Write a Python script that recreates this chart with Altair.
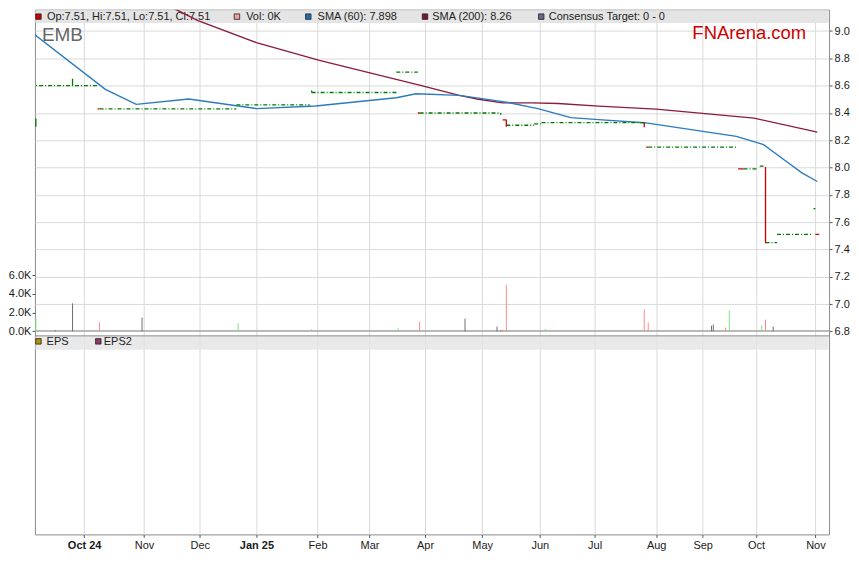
import altair as alt
import pandas as pd

# ------------------------------------------------------------------ data
SMA60_DATES = ["2024-09-03", "2024-10-12", "2024-10-28", "2024-11-25", "2025-01-01",
               "2025-01-31", "2025-03-16", "2025-03-27", "2025-04-19", "2025-05-14",
               "2025-05-31", "2025-06-18", "2025-07-03", "2025-07-26", "2025-09-20",
               "2025-10-05", "2025-10-16", "2025-10-25", "2025-11-02"]
SMA60_VALUES = [9.00, 8.573, 8.463, 8.502, 8.432, 8.451, 8.512, 8.541, 8.529, 8.480,
                8.432, 8.366, 8.351, 8.329, 8.229, 8.168, 8.054, 7.961, 7.898]

SMA200_DATES = ["2024-11-05", "2024-11-12", "2024-11-30", "2025-01-01", "2025-02-02",
                "2025-03-30", "2025-04-19", "2025-04-29", "2025-05-12", "2025-05-28",
                "2025-06-11", "2025-07-03", "2025-08-01", "2025-09-30", "2025-11-02"]
SMA200_VALUES = [9.28, 9.20, 9.077, 8.916, 8.785, 8.60, 8.529, 8.501, 8.474, 8.474,
                 8.470, 8.450, 8.428, 8.362, 8.26]

CLOSE_START = ["2024-09-03", "2024-10-09", "2024-12-21", "2025-01-29", "2025-03-16",
               "2025-03-29", "2025-05-14", "2025-05-29", "2025-06-02", "2025-07-28",
               "2025-09-24", "2025-10-03", "2025-10-06", "2025-10-12", "2025-10-31"]
CLOSE_END = ["2024-10-08", "2024-12-21", "2025-01-28", "2025-03-16", "2025-03-28",
             "2025-05-11", "2025-05-29", "2025-06-02", "2025-07-26", "2025-09-20",
             "2025-10-02", "2025-10-05", "2025-10-12", "2025-10-30", "2025-11-01"]
CLOSE_PRICE = [8.60, 8.43, 8.46, 8.55, 8.70, 8.40, 8.31, 8.32, 8.33, 8.15,
               7.99, 8.01, 7.45, 7.51, 7.70]

DOWN_START = ["2024-10-08", "2025-03-28", "2025-05-12", "2025-07-27", "2025-09-21", "2025-11-01"]
DOWN_END = ["2024-10-09", "2025-03-29", "2025-05-14", "2025-07-28", "2025-09-24", "2025-11-03"]
DOWN_PRICE = [8.43, 8.40, 8.35, 8.15, 7.99, 7.51]

VERT_DATES = ["2024-09-06", "2024-09-25", "2025-01-29", "2025-05-11", "2025-05-14",
              "2025-07-26", "2025-10-06"]
VERT_LOW = [8.30, 8.60, 8.55, 8.387, 8.30, 8.296, 7.445]
VERT_HIGH = [8.36, 8.65, 8.565, 8.40, 8.35, 8.33, 8.005]
VERT_DIR = ["up", "up", "up", "up", "down", "down", "down"]

VOL_DATES = ["2024-09-06", "2024-09-16", "2024-09-25", "2024-10-09", "2024-10-31",
             "2024-12-22", "2025-01-29", "2025-03-17", "2025-03-29", "2025-04-22",
             "2025-05-09", "2025-05-11", "2025-05-12", "2025-05-14", "2025-06-04",
             "2025-07-26", "2025-07-28", "2025-09-06", "2025-09-07", "2025-09-14",
             "2025-09-16", "2025-09-22", "2025-10-04", "2025-10-06", "2025-10-10",
             "2025-11-01"]
VOL_K = [1.47, 0.13, 3.0, 0.98, 1.47, 0.87, 0.23, 0.34, 1.05, 1.37,
         0.52, 0.10, 0.20, 4.99, 0.27, 2.33, 0.94, 0.62, 0.73, 0.41,
         2.22, 0.05, 0.62, 1.26, 0.52, 0.13]
VOL_DIR = ["up", "flat", "flat", "down", "flat", "up", "up", "up", "down", "flat",
           "flat", "flat", "down", "down", "up", "down", "down", "flat", "flat", "down",
           "up", "down", "up", "down", "flat", "up"]

MONTH_TICKS = ["2024-10-01", "2024-11-01", "2024-12-01", "2025-01-01", "2025-02-01",
               "2025-03-01", "2025-04-01", "2025-05-01", "2025-06-01", "2025-07-01",
               "2025-08-01", "2025-09-01", "2025-10-01", "2025-11-01"]
PRICE_TICKS = [6.8, 7.0, 7.2, 7.4, 7.6, 7.8, 8.0, 8.2, 8.4, 8.6, 8.8, 9.0]
VOL_TICKS = [0, 2000, 4000, 6000]

LEGEND_TOP = ["Op:7.51, Hi:7.51, Lo:7.51, Cl:7.51", "Vol: 0K", "SMA (60): 7.898",
              "SMA (200): 8.26", "Consensus Target: 0 - 0"]
LEGEND_TOP_COLORS = ["#cc0000", "#f4a0a0", "#1f6fb0", "#7a1530", "#666a8a"]
LEGEND_BOTTOM = ["EPS", "EPS2"]
LEGEND_BOTTOM_COLORS = ["#b39200", "#8b3a6b"]


def ms(s):
    return int(pd.Timestamp(s, tz="UTC").value // 10**6)


# ------------------------------------------------------------------ layout
FONT = "Liberation Sans"
W, H = 796, 526
PAD = {"left": 27, "top": 1, "right": 22, "bottom": 18}

# price scale calibration (plot px)
P_LO_Y, P_HI_Y = 322.5, 21.5
PPU = (P_LO_Y - P_HI_Y) / 2.2
P_DOMAIN = [6.8 - (H - P_LO_Y) / PPU, 9.0 + P_HI_Y / PPU]
VPPK = 9.383
V_DOMAIN = [-(H - P_LO_Y) / VPPK * 1000, P_LO_Y / VPPK * 1000]

# the source's time axis is not calendar-uniform: piecewise-linear time scale on month ticks
X_ANCHORS = ["2024-09-05T12:30:00"] + MONTH_TICKS + ["2025-11-08T03:00:00"]
X_ANCHOR_PX = [0, 49.3, 109.3, 165.3, 222, 283.3, 335.3, 391, 448.3, 506, 561,
               622.7, 669.3, 722.7, 782.3, 796]
XS = alt.Scale(type="linear", domain=[ms(d) for d in X_ANCHORS], range=X_ANCHOR_PX,
               nice=False, zero=False)
PS = alt.Scale(domain=P_DOMAIN, nice=False, zero=False)
VS = alt.Scale(domain=V_DOMAIN, nice=False, zero=False)

IS_YEAR = "(utcmonth(datum.value) == 0 || (utcmonth(datum.value) == 9 && utcyear(datum.value) == 2024))"
XAXIS = alt.Axis(values=[ms(d) for d in MONTH_TICKS],
                 labelExpr=IS_YEAR + " ? utcFormat(datum.value, '%b %y') : utcFormat(datum.value, '%b')",
                 labelFontWeight={"condition": {"test": IS_YEAR, "value": "bold"}, "value": "normal"},
                 title=None, grid=True, gridColor="#d9d9d9", domain=False, tickSize=3,
                 tickColor="#555555", labelPadding=2, labelOverlap=False, labelFlush=False)
PAXIS = alt.Axis(orient="right", values=PRICE_TICKS, format=".1f", title=None, grid=True,
                 gridColor="#d9d9d9", domain=False, tickSize=3, tickColor="#555555",
                 labelPadding=2, labelOverlap=False, labelFlush=False)
VAXIS = alt.Axis(orient="left", values=VOL_TICKS, labelExpr="format(datum.value/1000, '.1f') + 'K'",
                 title=None, grid=False, domain=False, tickSize=3, tickColor="#555555",
                 labelPadding=1, labelOverlap=False, labelFlush=False)

GREEN = "#007a00"
RED = "#cc0000"


def tcol(dates):
    return [ms(d) for d in dates]


df60 = pd.DataFrame({"t": tcol(SMA60_DATES), "v": SMA60_VALUES})
df200 = pd.DataFrame({"t": tcol(SMA200_DATES), "v": SMA200_VALUES})
dfc = pd.DataFrame({"t": tcol(CLOSE_START), "end": tcol(CLOSE_END), "p": CLOSE_PRICE})
dfd = pd.DataFrame({"t": tcol(DOWN_START), "end": tcol(DOWN_END), "p": DOWN_PRICE})
dfv = pd.DataFrame({"t": tcol(VERT_DATES), "lo": VERT_LOW, "hi": VERT_HIGH, "dir": VERT_DIR})
dfvol = pd.DataFrame({"t": tcol(VOL_DATES), "vol": [k * 1000 for k in VOL_K], "dir": VOL_DIR})
ONE = pd.DataFrame({"k": [0]})

X = lambda: alt.X("t:Q", scale=XS, axis=XAXIS)
Y = lambda f: alt.Y(f"{f}:Q", scale=PS, axis=PAXIS)

sma60 = alt.Chart(df60).mark_line(color="#2a7bbd", strokeWidth=1.4, clip=True).encode(x=X(), y=Y("v"))
sma200 = alt.Chart(df200).mark_line(color="#8a1c3c", strokeWidth=1.4, clip=True).encode(x=X(), y=Y("v"))
close = alt.Chart(dfc).mark_rule(color=GREEN, strokeWidth=1.3, strokeDash=[4, 2, 1, 2], clip=True).encode(
    x=X(), x2="end:Q", y=Y("p"))
down = alt.Chart(dfd).mark_rule(color=RED, strokeWidth=1.3, clip=True).encode(x=X(), x2="end:Q", y=Y("p"))
vup = alt.Chart(dfv).transform_filter("datum.dir == 'up'").mark_rule(color=GREEN, strokeWidth=1.3, clip=True).encode(
    x=X(), y=Y("lo"), y2="hi:Q")
vdn = alt.Chart(dfv).transform_filter("datum.dir == 'down'").mark_rule(color=RED, strokeWidth=1.3, clip=True).encode(
    x=X(), y=Y("lo"), y2="hi:Q")
price = alt.layer(sma200, sma60, close, down, vup, vdn)

volume = alt.Chart(dfvol).mark_rule(strokeWidth=1, clip=True).encode(
    x=X(),
    y=alt.Y("vol:Q", scale=VS, axis=VAXIS),
    y2=alt.datum(0),
    color=alt.Color("dir:N", scale=alt.Scale(domain=["up", "down", "flat"],
                                            range=["#7be37b", "#ff8a8a", "#6f6f6f"]), legend=None),
)


def rect(x1, x2, y1, y2, fill, opacity=1.0):
    return alt.Chart(ONE).mark_rect(color=fill, opacity=opacity).encode(
        x=alt.value(x1), x2=alt.value(x2), y=alt.value(y1), y2=alt.value(y2))


def hline(y, color):
    return alt.Chart(ONE).mark_rule(color=color, strokeWidth=1).encode(
        x=alt.value(0), x2=alt.value(W), y=alt.value(y))


def text(s, x, y, size=11, color="#222222", align="left", baseline="middle"):
    return alt.Chart(ONE).mark_text(text=s, font=FONT, fontSize=size, color=color,
                                    align=align, baseline=baseline).encode(x=alt.value(x), y=alt.value(y))


def square(x, y, fill):
    return alt.Chart(ONE).mark_square(size=30, color=fill, stroke="#222222", strokeWidth=0.8,
                                      opacity=1).encode(x=alt.value(x), y=alt.value(y))


deco_under = [
    rect(0.5, W - 0.5, 0.5, 13.5, "#e4e4e4"),
    rect(0.5, W - 0.5, 327, 341, "#e4e4e4", 0.8),
    hline(327, "#8c8c8c"),
    hline(322, "#8c8c8c"),
]

TOP_SQ_X = [3.5, 202.5, 274, 391, 507.5]
TOP_TX_X = [12, 211.7, 283.3, 398.3, 515]
labels = []
for s, c, sx, tx in zip(LEGEND_TOP, LEGEND_TOP_COLORS, TOP_SQ_X, TOP_TX_X):
    labels.append(square(sx, 7, c))
    labels.append(text(s, tx, 7.5))
BOT_SQ_X = [3.5, 63.5]
BOT_TX_X = [11.7, 69]
for s, c, sx, tx in zip(LEGEND_BOTTOM, LEGEND_BOTTOM_COLORS, BOT_SQ_X, BOT_TX_X):
    labels.append(square(sx, 332.5, c))
    labels.append(text(s, tx, 333.5))
labels.append(text("EMB", 7, 31, size=19, color="#666666", baseline="alphabetic"))
labels.append(text("FNArena.com", 773, 29.5, size=18.5, color="#cc0000", align="right",
                   baseline="alphabetic"))

chart = alt.layer(*deco_under, *labels, price, volume).resolve_scale(
    y="independent"
).properties(
    width=W, height=H, padding=PAD, autosize=alt.AutoSizeParams(type="none")
).configure_view(
    stroke="#8c8c8c", strokeWidth=1
).configure_axis(
    labelFont=FONT, labelFontSize=11, labelColor="#1a1a1a"
)

chart.save("out.html", embed_options={"renderer": "svg", "actions": False})
